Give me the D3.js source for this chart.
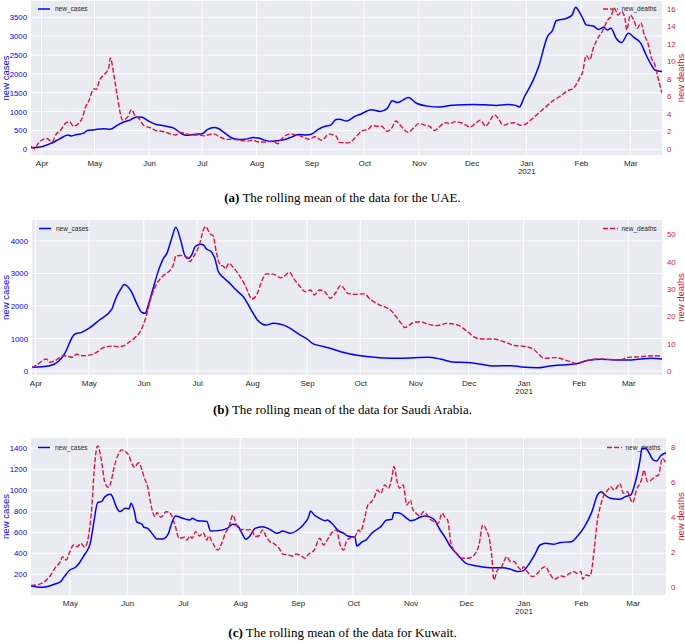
<!DOCTYPE html>
<html><head><meta charset="utf-8">
<script src="https://cdn.jsdelivr.net/npm/d3@7"></script>
<style>body{margin:0;background:#fff}svg{display:block}</style>
</head><body>
<svg id="chart" width="685" height="643"></svg>
<script>
// ---------------- DATA ----------------
const uaeCases = [["2020-03-26",40],["2020-04-01",70],["2020-04-06",150],["2020-04-11",270],["2020-04-16",380],["2020-04-18",355],["2020-04-21",390],["2020-04-25",430],["2020-04-27",500],["2020-05-01",520],["2020-05-06",545],["2020-05-10",530],["2020-05-14",640],["2020-05-18",730],["2020-05-21",770],["2020-05-25",860],["2020-05-28",850],["2020-06-01",740],["2020-06-05",660],["2020-06-08",640],["2020-06-12",600],["2020-06-15",560],["2020-06-19",430],["2020-06-22",370],["2020-06-26",390],["2020-07-01",410],["2020-07-04",520],["2020-07-08",580],["2020-07-10",560],["2020-07-14",430],["2020-07-18",300],["2020-07-22",260],["2020-07-26",270],["2020-07-30",310],["2020-08-02",300],["2020-08-05",250],["2020-08-09",210],["2020-08-13",230],["2020-08-17",260],["2020-08-21",330],["2020-08-25",390],["2020-08-29",380],["2020-09-01",400],["2020-09-05",530],["2020-09-09",610],["2020-09-12",640],["2020-09-15",790],["2020-09-17",800],["2020-09-21",750],["2020-09-26",880],["2020-09-29",930],["2020-10-05",1050],["2020-10-10",1005],["2020-10-14",1080],["2020-10-17",1285],["2020-10-20",1240],["2020-10-23",1305],["2020-10-26",1375],["2020-10-31",1215],["2020-11-06",1145],["2020-11-13",1120],["2020-11-20",1170],["2020-12-02",1190],["2020-12-08",1180],["2020-12-15",1165],["2020-12-21",1190],["2020-12-26",1165],["2020-12-28",1120],["2020-12-31",1400],["2021-01-05",1840],["2021-01-08",2190],["2021-01-13",2990],["2021-01-16",3165],["2021-01-18",3410],["2021-01-24",3475],["2021-01-27",3560],["2021-01-29",3765],["2021-01-31",3650],["2021-02-02",3475],["2021-02-04",3300],["2021-02-08",3270],["2021-02-11",3180],["2021-02-14",3235],["2021-02-16",3165],["2021-02-18",3210],["2021-02-21",2945],["2021-02-24",2830],["2021-02-28",3075],["2021-03-03",2970],["2021-03-07",2810],["2021-03-10",2500],["2021-03-13",2235],["2021-03-15",2100],["2021-03-19",2060]];
const uaeDeaths = [["2020-03-26",0.3],["2020-03-28",0.0],["2020-03-30",0.6],["2020-04-01",1.0],["2020-04-04",1.2],["2020-04-07",0.8],["2020-04-09",1.6],["2020-04-12",2.2],["2020-04-15",3.0],["2020-04-17",3.1],["2020-04-19",2.6],["2020-04-22",2.9],["2020-04-24",3.5],["2020-04-26",4.8],["2020-04-28",5.6],["2020-04-30",6.7],["2020-05-01",6.9],["2020-05-02",6.8],["2020-05-04",7.9],["2020-05-07",8.6],["2020-05-09",9.2],["2020-05-10",10.4],["2020-05-12",8.5],["2020-05-14",6.0],["2020-05-17",3.3],["2020-05-20",3.7],["2020-05-22",4.5],["2020-05-24",3.8],["2020-05-26",3.5],["2020-05-29",2.7],["2020-06-02",2.4],["2020-06-05",2.1],["2020-06-09",2.0],["2020-06-12",1.8],["2020-06-16",1.6],["2020-06-19",1.9],["2020-06-21",1.8],["2020-06-25",1.6],["2020-06-29",1.6],["2020-07-02",1.5],["2020-07-04",1.6],["2020-07-08",1.7],["2020-07-11",1.4],["2020-07-15",1.1],["2020-07-19",1.1],["2020-07-23",1.0],["2020-07-27",0.9],["2020-07-30",1.0],["2020-08-02",0.8],["2020-08-06",0.8],["2020-08-10",0.9],["2020-08-13",0.6],["2020-08-15",1.1],["2020-08-20",1.7],["2020-08-24",1.6],["2020-08-27",1.4],["2020-08-31",1.1],["2020-09-03",1.4],["2020-09-07",1.0],["2020-09-11",1.7],["2020-09-15",1.5],["2020-09-17",0.75],["2020-09-22",0.7],["2020-09-26",1.3],["2020-09-30",2.1],["2020-10-03",2.2],["2020-10-06",2.7],["2020-10-08",2.6],["2020-10-11",2.6],["2020-10-14",2.0],["2020-10-17",2.5],["2020-10-19",3.2],["2020-10-22",2.6],["2020-10-26",1.9],["2020-10-29",2.4],["2020-11-01",2.9],["2020-11-05",2.7],["2020-11-07",2.6],["2020-11-10",2.1],["2020-11-12",2.4],["2020-11-16",3.0],["2020-11-19",2.9],["2020-11-21",3.1],["2020-11-25",3.0],["2020-11-28",2.7],["2020-11-30",2.5],["2020-12-03",2.9],["2020-12-06",3.3],["2020-12-09",2.6],["2020-12-11",3.1],["2020-12-14",3.9],["2020-12-16",3.5],["2020-12-19",2.7],["2020-12-22",2.9],["2020-12-25",3.0],["2020-12-29",2.7],["2021-01-01",2.9],["2021-01-04",3.4],["2021-01-08",4.1],["2021-01-12",4.8],["2021-01-16",5.5],["2021-01-20",6.0],["2021-01-24",6.6],["2021-01-28",7.0],["2021-01-31",8.0],["2021-02-02",8.8],["2021-02-04",10.7],["2021-02-06",10.2],["2021-02-08",11.5],["2021-02-11",12.8],["2021-02-13",13.4],["2021-02-14",13.8],["2021-02-16",14.7],["2021-02-18",15.1],["2021-02-20",16.1],["2021-02-22",15.3],["2021-02-24",15.7],["2021-02-26",14.9],["2021-02-27",13.6],["2021-03-01",15.3],["2021-03-03",14.7],["2021-03-05",13.8],["2021-03-07",14.4],["2021-03-09",13.0],["2021-03-11",12.1],["2021-03-13",10.4],["2021-03-15",9.6],["2021-03-17",7.9],["2021-03-19",6.4]];

const saCases = [["2020-03-30",115],["2020-04-09",165],["2020-04-14",300],["2020-04-17",500],["2020-04-23",1130],["2020-04-27",1190],["2020-05-01",1310],["2020-05-07",1570],["2020-05-14",1900],["2020-05-16",2210],["2020-05-19",2520],["2020-05-21",2660],["2020-05-25",2440],["2020-05-28",2080],["2020-05-31",1800],["2020-06-02",1775],["2020-06-03",1930],["2020-06-06",2490],["2020-06-09",3050],["2020-06-12",3460],["2020-06-14",3620],["2020-06-17",4130],["2020-06-19",4420],["2020-06-22",3980],["2020-06-24",3570],["2020-06-26",3460],["2020-06-28",3570],["2020-06-30",3830],["2020-07-03",3900],["2020-07-05",3860],["2020-07-06",3770],["2020-07-09",3670],["2020-07-11",3470],["2020-07-13",3060],["2020-07-16",2870],["2020-07-20",2670],["2020-07-23",2490],["2020-07-27",2290],["2020-07-31",1930],["2020-08-04",1570],["2020-08-07",1440],["2020-08-09",1415],["2020-08-13",1470],["2020-08-17",1440],["2020-08-21",1360],["2020-08-24",1260],["2020-08-28",1110],["2020-09-01",985],["2020-09-04",850],["2020-09-08",780],["2020-09-14",700],["2020-09-20",595],["2020-10-01",470],["2020-10-12",410],["2020-10-24",390],["2020-11-08",420],["2020-11-15",370],["2020-11-23",270],["2020-11-30",265],["2020-12-08",205],["2020-12-15",155],["2020-12-25",165],["2020-12-31",125],["2021-01-09",100],["2021-01-15",145],["2021-01-22",185],["2021-01-30",215],["2021-02-06",320],["2021-02-14",360],["2021-02-21",340],["2021-03-01",340],["2021-03-08",370],["2021-03-14",390],["2021-03-20",370]];
const saDeaths = [["2020-03-30",1.2],["2020-04-03",2.8],["2020-04-07",4.4],["2020-04-09",3.2],["2020-04-12",3.8],["2020-04-17",5.6],["2020-04-22",5.0],["2020-04-24",6.1],["2020-04-28",5.6],["2020-05-02",5.9],["2020-05-06",7.1],["2020-05-09",8.5],["2020-05-14",9.1],["2020-05-18",8.9],["2020-05-21",9.3],["2020-05-24",10.7],["2020-05-27",12.2],["2020-05-30",14.4],["2020-06-02",19.3],["2020-06-05",26.6],["2020-06-08",31.5],["2020-06-12",34.9],["2020-06-16",37.0],["2020-06-18",39.4],["2020-06-19",42.1],["2020-06-22",42.2],["2020-06-25",41.8],["2020-06-27",40.0],["2020-06-29",41.8],["2020-07-02",45.5],["2020-07-05",52.2],["2020-07-06",52.8],["2020-07-08",50.4],["2020-07-10",49.5],["2020-07-12",43.0],["2020-07-14",38.8],["2020-07-16",38.2],["2020-07-17",37.3],["2020-07-19",39.4],["2020-07-21",38.2],["2020-07-24",35.7],["2020-07-28",31.5],["2020-08-01",26.3],["2020-08-04",28.4],["2020-08-06",32.1],["2020-08-09",35.5],["2020-08-13",35.4],["2020-08-17",34.1],["2020-08-20",35.1],["2020-08-22",36.1],["2020-08-25",33.3],["2020-08-28",30.9],["2020-08-31",29.0],["2020-09-03",29.6],["2020-09-05",27.8],["2020-09-08",29.6],["2020-09-11",29.0],["2020-09-14",26.6],["2020-09-17",28.5],["2020-09-20",31.3],["2020-09-24",28.4],["2020-09-28",28.0],["2020-10-03",28.2],["2020-10-07",26.0],["2020-10-12",24.1],["2020-10-18",22.3],["2020-10-24",17.4],["2020-10-26",15.9],["2020-10-31",17.7],["2020-11-04",18.0],["2020-11-08",17.1],["2020-11-13",16.6],["2020-11-19",17.4],["2020-11-25",16.8],["2020-11-30",14.6],["2020-12-06",11.9],["2020-12-10",11.7],["2020-12-15",11.7],["2020-12-21",10.7],["2020-12-27",9.3],["2020-12-31",9.1],["2021-01-06",8.2],["2021-01-13",4.6],["2021-01-19",4.9],["2021-01-26",3.7],["2021-01-31",2.8],["2021-02-05",3.7],["2021-02-12",4.4],["2021-02-24",4.1],["2021-03-01",5.0],["2021-03-08",5.2],["2021-03-15",5.6],["2021-03-20",5.4]];

const kwCases = [["2020-04-10",89],["2020-04-16",76],["2020-04-20",89],["2020-04-23",108],["2020-04-26",130],["2020-04-28",178],["2020-05-01",241],["2020-05-04",267],["2020-05-06",305],["2020-05-08",362],["2020-05-10",416],["2020-05-12",495],["2020-05-14",702],["2020-05-16",883],["2020-05-18",892],["2020-05-20",940],["2020-05-23",962],["2020-05-24",940],["2020-05-26",844],["2020-05-28",797],["2020-05-31",829],["2020-06-02",825],["2020-06-03",876],["2020-06-05",787],["2020-06-06",702],["2020-06-09",676],["2020-06-10",648],["2020-06-12",638],["2020-06-15",575],["2020-06-17",536],["2020-06-20",536],["2020-06-23",581],["2020-06-25",686],["2020-06-27",756],["2020-07-01",733],["2020-07-05",717],["2020-07-06",733],["2020-07-09",711],["2020-07-14",702],["2020-07-16",613],["2020-07-20",616],["2020-07-25",638],["2020-07-28",676],["2020-07-31",654],["2020-08-02",590],["2020-08-04",533],["2020-08-06",559],["2020-08-09",638],["2020-08-13",654],["2020-08-16",638],["2020-08-19",606],["2020-08-21",590],["2020-08-24",613],["2020-08-28",590],["2020-09-01",622],["2020-09-04",670],["2020-09-07",749],["2020-09-08",803],["2020-09-10",765],["2020-09-12",743],["2020-09-16",711],["2020-09-17",717],["2020-09-20",676],["2020-09-23",616],["2020-09-26",590],["2020-09-28",565],["2020-10-02",552],["2020-10-03",470],["2020-10-06",511],["2020-10-08",527],["2020-10-11",590],["2020-10-14",629],["2020-10-16",654],["2020-10-19",717],["2020-10-22",724],["2020-10-23",787],["2020-10-25",787],["2020-10-27",775],["2020-10-30",733],["2020-11-01",711],["2020-11-03",717],["2020-11-06",743],["2020-11-09",756],["2020-11-11",749],["2020-11-14",717],["2020-11-17",622],["2020-11-20",543],["2020-11-22",479],["2020-11-26",394],["2020-12-01",305],["2020-12-04",289],["2020-12-09",273],["2020-12-14",263],["2020-12-21",263],["2020-12-25",248],["2020-12-29",226],["2021-01-01",235],["2021-01-03",273],["2021-01-07",384],["2021-01-10",479],["2021-01-13",495],["2021-01-17",486],["2021-01-21",502],["2021-01-27",511],["2021-01-30",559],["2021-02-03",654],["2021-02-07",797],["2021-02-10",956],["2021-02-12",987],["2021-02-14",956],["2021-02-17",924],["2021-02-22",914],["2021-02-25",940],["2021-02-28",956],["2021-03-02",1051],["2021-03-05",1289],["2021-03-06",1400],["2021-03-08",1400],["2021-03-10",1352],["2021-03-12",1289],["2021-03-14",1279],["2021-03-16",1327],["2021-03-19",1359]];
const kwDeaths = [["2020-04-10",0.1],["2020-04-15",0.2],["2020-04-17",0.3],["2020-04-20",0.6],["2020-04-23",1.1],["2020-04-26",1.5],["2020-04-27",1.75],["2020-04-29",1.56],["2020-05-01",2.04],["2020-05-03",2.42],["2020-05-05",2.32],["2020-05-07",2.51],["2020-05-09",2.29],["2020-05-11",2.9],["2020-05-13",4.8],["2020-05-14",6.5],["2020-05-16",8.08],["2020-05-18",7.28],["2020-05-20",5.94],["2020-05-22",5.71],["2020-05-23",5.94],["2020-05-25",6.9],["2020-05-27",7.56],["2020-05-29",7.85],["2020-05-31",7.75],["2020-06-02",7.5],["2020-06-03",7.18],["2020-06-05",6.86],["2020-06-07",7.12],["2020-06-09",6.7],["2020-06-10",6.32],["2020-06-12",5.75],["2020-06-14",4.61],["2020-06-16",4.04],["2020-06-17",4.27],["2020-06-19",4.0],["2020-06-22",4.32],["2020-06-24",4.27],["2020-06-25",4.08],["2020-06-27",3.47],["2020-06-29",2.8],["2020-07-02",2.86],["2020-07-03",2.7],["2020-07-05",2.93],["2020-07-06",2.8],["2020-07-08",3.18],["2020-07-10",2.93],["2020-07-12",3.12],["2020-07-14",2.7],["2020-07-15",2.93],["2020-07-17",2.55],["2020-07-20",2.13],["2020-07-22",2.51],["2020-07-24",3.09],["2020-07-26",3.47],["2020-07-28",4.13],["2020-07-30",3.56],["2020-08-01",3.28],["2020-08-02",3.31],["2020-08-05",3.28],["2020-08-07",3.31],["2020-08-09",2.9],["2020-08-11",2.93],["2020-08-13",3.28],["2020-08-15",2.9],["2020-08-17",2.61],["2020-08-19",2.51],["2020-08-22",2.23],["2020-08-24",1.9],["2020-08-27",1.85],["2020-08-29",1.79],["2020-08-31",1.9],["2020-09-03",1.79],["2020-09-05",1.66],["2020-09-07",1.9],["2020-09-10",2.13],["2020-09-13",2.8],["2020-09-15",2.42],["2020-09-17",2.7],["2020-09-20",3.18],["2020-09-22",3.28],["2020-09-24",2.42],["2020-09-26",2.13],["2020-09-27",2.51],["2020-09-29",2.8],["2020-10-02",2.9],["2020-10-04",3.28],["2020-10-05",3.18],["2020-10-07",3.85],["2020-10-09",4.7],["2020-10-11",4.9],["2020-10-13",5.28],["2020-10-14",5.56],["2020-10-16",5.37],["2020-10-18",5.85],["2020-10-20",5.66],["2020-10-22",6.32],["2020-10-23",6.9],["2020-10-25",5.94],["2020-10-26",5.66],["2020-10-28",5.85],["2020-10-30",4.7],["2020-11-01",4.99],["2020-11-02",4.51],["2020-11-04",4.23],["2020-11-06",4.08],["2020-11-08",4.32],["2020-11-10",4.13],["2020-11-11",3.94],["2020-11-14",3.75],["2020-11-16",3.66],["2020-11-18",4.23],["2020-11-20",3.94],["2020-11-21",3.85],["2020-11-23",2.42],["2020-11-26",1.94],["2020-11-29",1.66],["2020-12-02",1.66],["2020-12-04",1.71],["2020-12-06",1.94],["2020-12-08",2.42],["2020-12-10",3.56],["2020-12-12",3.28],["2020-12-14",2.51],["2020-12-15",1.66],["2020-12-16",0.42],["2020-12-18",0.99],["2020-12-20",1.14],["2020-12-21",1.37],["2020-12-23",1.75],["2020-12-25",1.47],["2020-12-27",1.47],["2020-12-29",1.18],["2020-12-31",0.99],["2021-01-01",1.18],["2021-01-03",0.9],["2021-01-06",0.61],["2021-01-09",0.84],["2021-01-11",1.09],["2021-01-13",1.18],["2021-01-15",0.8],["2021-01-18",0.46],["2021-01-21",0.65],["2021-01-23",0.61],["2021-01-26",0.8],["2021-01-28",0.9],["2021-01-30",0.8],["2021-02-01",0.9],["2021-02-02",0.46],["2021-02-04",0.7],["2021-02-06",0.65],["2021-02-07",1.09],["2021-02-08",1.94],["2021-02-10",3.85],["2021-02-12",4.8],["2021-02-14",5.37],["2021-02-15",5.47],["2021-02-17",5.75],["2021-02-19",5.56],["2021-02-21",5.79],["2021-02-22",5.94],["2021-02-24",5.37],["2021-02-26",5.47],["2021-02-28",4.99],["2021-03-01",4.84],["2021-03-03",5.56],["2021-03-06",6.23],["2021-03-07",6.7],["2021-03-09",6.04],["2021-03-11",6.13],["2021-03-13",6.32],["2021-03-15",6.42],["2021-03-17",7.37],["2021-03-19",7.09]];

// tick labels
const uaeCaseTicks = [0,500,1000,1500,2000,2500,3000,3500];
const uaeDeathTicks = [0,2,4,6,8,10,12,14,16];
const saCaseTicks = [0,1000,2000,3000,4000];
const saDeathTicks = [0,10,20,30,40,50];
const kwCaseTicks = [200,400,600,800,1000,1200,1400];
const kwDeathTicks = [0,2,4,6,8];
const seriesNames = ["new_cases","new_deaths"];
const axisTitles = ["new cases","new deaths"];
const captionTags = ["(a)","(b)","(c)"];
const captionTexts = [" The rolling mean of the data for the UAE."," The rolling mean of the data for Saudi Arabia."," The rolling mean of the data for Kuwait."];

// ---------------- LAYOUT ----------------
const parse = d3.timeParse("%Y-%m-%d");
const BLUE = "#0000ff", RED = "#dc143c", BG = "#eaeaf2";
const FONT = "'Liberation Sans', Arial, sans-serif";
const svg = d3.select("#chart");

const panels = [
  {cases:uaeCases, deaths:uaeDeaths, ticksL:uaeCaseTicks, ticksR:uaeDeathTicks,
   left:31, right:662, top:1, bottom:155, xDom:["2020-03-26","2021-03-19"],
   yL:[-151,3933], yR:[-0.69,16.91], capY:201.5, legY:9, legRX:603},
  {cases:saCases, deaths:saDeaths, ticksL:saCaseTicks, ticksR:saDeathTicks,
   left:32, right:662, top:220, bottom:375, xDom:["2020-03-30","2021-03-20"],
   yL:[-123,4646], yR:[-1.46,55.2], capY:413.5, legY:228.5, legRX:603},
  {cases:kwCases, deaths:kwDeaths, ticksL:kwCaseTicks, ticksR:kwDeathTicks,
   left:31, right:666, top:438, bottom:595, xDom:["2020-04-10","2021-03-19"],
   yL:[3,1498], yR:[-0.44,8.53], capY:636.5, legY:447.5, legRX:607}
];

panels.forEach((p, i) => {
  const g = svg.append("g");
  const x = d3.scaleTime().domain(p.xDom.map(parse)).range([p.left, p.right]);
  const yL = d3.scaleLinear().domain(p.yL).range([p.bottom, p.top]);
  const yR = d3.scaleLinear().domain(p.yR).range([p.bottom, p.top]);

  g.append("rect").attr("x", p.left).attr("y", p.top)
    .attr("width", p.right - p.left).attr("height", p.bottom - p.top).attr("fill", BG);

  const months = d3.timeMonth.range(d3.timeMonth.ceil(x.domain()[0]), x.domain()[1]);

  // grid
  g.append("g").selectAll("line").data(p.ticksL).join("line")
    .attr("x1", p.left).attr("x2", p.right)
    .attr("y1", d => yL(d)).attr("y2", d => yL(d))
    .attr("stroke", "#fff").attr("stroke-width", 1);
  g.append("g").selectAll("line").data(months).join("line")
    .attr("x1", d => x(d)).attr("x2", d => x(d))
    .attr("y1", p.top).attr("y2", p.bottom)
    .attr("stroke", "#fff").attr("stroke-width", 1);

  // axes
  const ax = g.append("g").attr("transform", `translate(0,${p.bottom})`)
    .call(d3.axisBottom(x).tickValues(months).tickFormat(d3.timeFormat("%b")).tickSize(0).tickPadding(5));
  ax.select(".domain").remove();
  ax.selectAll("text").attr("fill", "#262626").style("font", `8px ${FONT}`)
    .each(function(d) {
      if (d.getMonth() === 0) {
        const t = d3.select(this);
        t.text(null);
        t.append("tspan").attr("x", 0).text(d3.timeFormat("%b")(d));
        t.append("tspan").attr("x", 0).attr("dy", "1.1em").text(d.getFullYear());
      }
    });

  const al = g.append("g").attr("transform", `translate(${p.left},0)`)
    .call(d3.axisLeft(yL).tickValues(p.ticksL).tickFormat(d3.format("d")).tickSize(0).tickPadding(4));
  al.select(".domain").remove();
  al.selectAll("text").attr("fill", BLUE).style("font", `7.8px ${FONT}`);

  const ar = g.append("g").attr("transform", `translate(${p.right},0)`)
    .call(d3.axisRight(yR).tickValues(p.ticksR).tickFormat(d3.format("d")).tickSize(0).tickPadding(5));
  ar.select(".domain").remove();
  ar.selectAll("text").attr("fill", RED).style("font", `7.8px ${FONT}`);

  const midY = (p.top + p.bottom) / 2;
  g.append("text").attr("transform", `translate(8.5,${midY}) rotate(-90)`)
    .attr("text-anchor", "middle").attr("fill", BLUE).style("font", `9.5px ${FONT}`).text(axisTitles[0]);
  g.append("text").attr("transform", `translate(683.5,${midY}) rotate(-90)`)
    .attr("text-anchor", "middle").attr("fill", RED).style("font", `9.5px ${FONT}`).text(axisTitles[1]);

  // lines
  const clipId = "clip" + i;
  g.append("clipPath").attr("id", clipId).append("rect")
    .attr("x", p.left).attr("y", p.top).attr("width", p.right - p.left).attr("height", p.bottom - p.top);
  const lineC = d3.line().x(d => x(parse(d[0]))).y(d => yL(d[1])).curve(d3.curveMonotoneX);
  const lineD = d3.line().x(d => x(parse(d[0]))).y(d => yR(d[1])).curve(d3.curveMonotoneX);
  g.append("path").datum(p.cases).attr("d", lineC).attr("fill", "none")
    .attr("stroke", BLUE).attr("stroke-width", 1.5).attr("clip-path", `url(#${clipId})`);
  g.append("path").datum(p.deaths).attr("d", lineD).attr("fill", "none")
    .attr("stroke", RED).attr("stroke-width", 1.4).attr("stroke-dasharray", "5,2").attr("clip-path", `url(#${clipId})`);

  // legends
  g.append("line").attr("x1", p.left + 7).attr("x2", p.left + 19).attr("y1", p.legY).attr("y2", p.legY)
    .attr("stroke", BLUE).attr("stroke-width", 1.5);
  g.append("text").attr("x", p.left + 24).attr("y", p.legY + 2.3).attr("fill", "#262626")
    .style("font", `6.5px ${FONT}`).text(seriesNames[0]);
  g.append("line").attr("x1", p.legRX).attr("x2", p.legRX + 15).attr("y1", p.legY).attr("y2", p.legY)
    .attr("stroke", RED).attr("stroke-width", 1.4).attr("stroke-dasharray", "5,2");
  g.append("text").attr("x", p.legRX + 18.5).attr("y", p.legY + 2.3).attr("fill", "#262626")
    .style("font", `6.5px ${FONT}`).text(seriesNames[1]);

  // caption
  const cap = svg.append("text").attr("x", 342.5).attr("y", p.capY).attr("text-anchor", "middle")
    .attr("fill", "#000").style("font", "13px 'Liberation Serif', 'Times New Roman', serif");
  cap.append("tspan").attr("font-weight", "bold").text(captionTags[i]);
  cap.append("tspan").text(captionTexts[i]);
});
</script>
</body></html>
